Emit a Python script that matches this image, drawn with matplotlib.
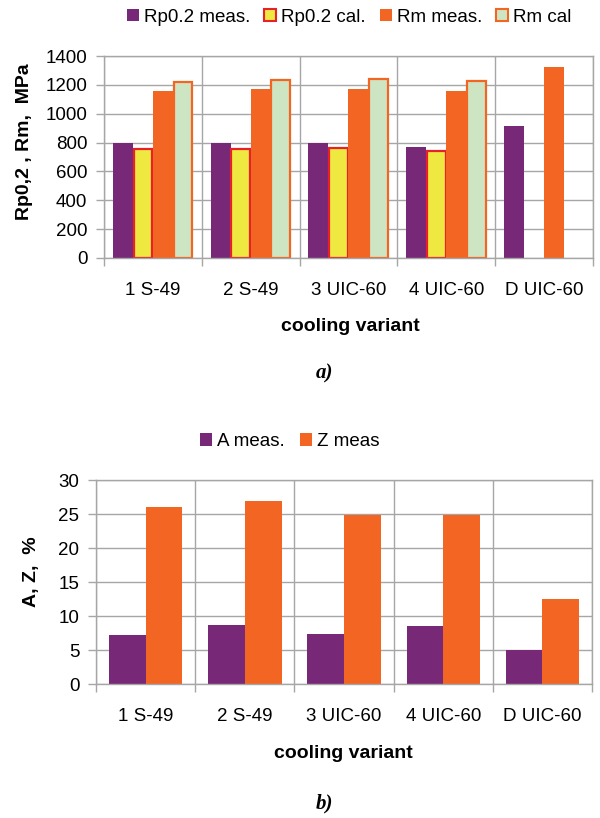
import matplotlib.pyplot as plt
import numpy as np
from matplotlib.patches import Patch

plt.rcParams['font.family'] = ['Liberation Sans', 'DejaVu Sans']

categories = ['1 S-49', '2 S-49', '3 UIC-60', '4 UIC-60', 'D UIC-60']
rp_meas = [795, 795, 795, 770, 915]
rp_cal = [753, 758, 762, 743, np.nan]
rm_meas = [1160, 1171, 1171, 1160, 1326]
rm_cal = [1222, 1231, 1240, 1229, np.nan]
a_meas = [7.2, 8.7, 7.4, 8.5, 5.0]
z_meas = [26.0, 26.9, 24.9, 24.9, 12.5]

PURPLE = '#772877'
ORANGE = '#F26522'
YELLOW = '#EEE840'
RED = '#E8202A'
GREEN = '#CDE5C3'
GRID = '#A6A6A6'


def style_axes(ax, ymax, ystep, ylabel, ylab_xy, xlab_xy):
    n = len(categories)
    ax.set_xlim(-0.5, n - 0.5)
    ax.set_ylim(0, ymax)
    ax.set_yticks(np.arange(0, ymax + 1, ystep))
    ax.set_xticks(np.arange(n))
    ax.set_xticklabels(categories, fontsize=13.5)
    ax.set_xticks(np.arange(n + 1) - 0.5, minor=True)
    ax.tick_params(axis='x', which='major', length=0, pad=17)
    ax.tick_params(axis='x', which='minor', length=6, color=GRID, width=1)
    ax.tick_params(axis='y', length=5.5, color=GRID, width=1, labelsize=13.5, pad=6.5)
    ax.grid(axis='y', which='major', color=GRID, linewidth=1)
    ax.grid(axis='x', which='minor', color=GRID, linewidth=1)
    ax.set_axisbelow(True)
    for s in ax.spines.values():
        s.set_color(GRID)
        s.set_linewidth(1)
    ax.set_ylabel(ylabel, fontsize=14, fontweight='bold')
    ax.yaxis.set_label_coords(*ylab_xy)
    ax.set_xlabel('cooling variant', fontsize=14, fontweight='bold')
    ax.xaxis.set_label_coords(*xlab_xy)


fig = plt.figure(figsize=(6, 8.18), dpi=100)

# a) strength
ax1 = fig.add_axes([0.1733, 0.6846, 0.815, 0.2469])
x = np.arange(len(categories))
w = 0.205
ax1.bar(x - 1.5 * w, rp_meas, w, color=PURPLE, linewidth=0)
ax1.bar(x - 0.5 * w, rp_cal, w * 0.93, color=YELLOW, edgecolor=RED, linewidth=1.6)
ax1.bar(x + 0.5 * w, rm_meas, w, color=ORANGE, linewidth=0)
ax1.bar(x + 1.5 * w, rm_cal, w * 0.93, color=GREEN, edgecolor=ORANGE, linewidth=1.6)
style_axes(ax1, 1400, 200, 'Rp0,2 , Rm,  MPa', (-0.145, 0.574), (0.503, -0.297))

h1 = [Patch(facecolor=PURPLE, linewidth=0),
      Patch(facecolor=YELLOW, edgecolor=RED, linewidth=1.5),
      Patch(facecolor=ORANGE, linewidth=0),
      Patch(facecolor=GREEN, edgecolor=ORANGE, linewidth=1.5)]
fig.legend(h1, ['Rp0.2 meas.', 'Rp0.2 cal.', 'Rm meas.', 'Rm cal'],
           loc='center', bbox_to_anchor=(0.582, 0.979), ncol=4, frameon=False,
           fontsize=13.5, handlelength=0.65, handleheight=0.65, handletextpad=0.25,
           columnspacing=0.75)
fig.text(0.54, 0.544, 'a)', fontsize=15, fontweight='bold', fontstyle='italic',
         family='Liberation Serif', ha='center', va='center')

# b) ductility
ax2 = fig.add_axes([0.16, 0.1638, 0.8267, 0.2494])
w2 = 0.37
ax2.bar(x - 0.5 * w2, a_meas, w2, color=PURPLE, linewidth=0)
ax2.bar(x + 0.5 * w2, z_meas, w2, color=ORANGE, linewidth=0)
style_axes(ax2, 30, 5, 'A, Z,  %', (-0.112, 0.549), (0.498, -0.299))

h2 = [Patch(facecolor=PURPLE, linewidth=0), Patch(facecolor=ORANGE, linewidth=0)]
fig.legend(h2, ['A meas.', 'Z meas'],
           loc='center', bbox_to_anchor=(0.483, 0.46), ncol=2, frameon=False,
           fontsize=13.5, handlelength=0.65, handleheight=0.65, handletextpad=0.25,
           columnspacing=0.8)
fig.text(0.54, 0.018, 'b)', fontsize=15, fontweight='bold', fontstyle='italic',
         family='Liberation Serif', ha='center', va='center')

fig.savefig('out.png', dpi=100)
